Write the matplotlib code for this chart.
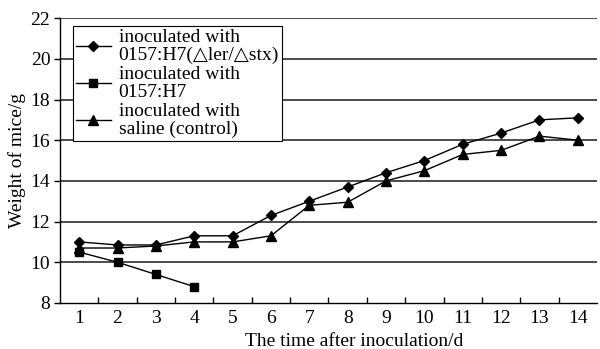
import numpy as np
import matplotlib.pyplot as plt

plt.rcParams['font.family'] = ['Liberation Serif', 'DejaVu Serif']

days = [1, 2, 3, 4, 5, 6, 7, 8, 9, 10, 11, 12, 13, 14]
mutant = [11.0, 10.85, 10.85, 11.3, 11.3, 12.3, 13.0, 13.7, 14.4, 15.0, 15.8, 16.35, 17.0, 17.1]
wild_days = [1, 2, 3, 4]
wild = [10.5, 10.0, 9.4, 8.8]
control = [10.7, 10.7, 10.8, 11.0, 11.0, 11.3, 12.8, 12.95, 14.0, 14.5, 15.3, 15.5, 16.2, 16.0]
labels = ['inoculated with\n0157:H7(\u25b3ler/\u25b3stx)',
          'inoculated with\n0157:H7',
          'inoculated with\nsaline (control)']

fig = plt.figure(figsize=(6, 3.49), dpi=100)
ax = fig.add_axes([0.1, 0.132, 0.895, 0.816])

for yv in [10, 12, 14, 16, 18, 20, 22]:
    ax.axhline(yv, color='#1a1a1a', lw=1.1, zorder=1)

ax.plot(days, mutant, '-D', color='black', ms=5, lw=1, label=labels[0], zorder=3)
ax.plot(wild_days, wild, '-s', color='black', ms=6, lw=1, label=labels[1], zorder=3)
ax.plot(days, control, '-^', color='black', ms=7, lw=1, label=labels[2], zorder=3)

ax.set_xlim(0.5, 14.5)
ax.set_ylim(8, 22)
ax.set_yticks(np.arange(8, 23, 2))
ax.set_xticks(days)
ax.set_xticks(np.arange(1.5, 14.5, 1), minor=True)
ax.tick_params(axis='x', which='major', length=0, labelsize=14, pad=5)
ax.tick_params(axis='x', which='minor', length=4, direction='in', width=1)
ax.tick_params(axis='y', length=4, direction='out', labelsize=14, width=1, pad=3)

for s in ['right', 'top']:
    ax.spines[s].set_visible(False)
ax.spines['left'].set_linewidth(1)
ax.spines['bottom'].set_linewidth(1)

ax.set_xlabel('The time after inoculation/d', fontsize=14)
ax.xaxis.set_label_coords(0.547, -0.105)
ax.set_ylabel('Weight of mice/g', fontsize=14, labelpad=3)

leg = ax.legend(loc='upper left', bbox_to_anchor=(0.024, 0.972), fontsize=14,
                handlelength=1.8, handletextpad=0.4, labelspacing=0.08,
                borderpad=0.15, borderaxespad=0, fancybox=False, framealpha=1,
                edgecolor='black')
leg.get_frame().set_linewidth(0.8)
for t in leg.get_texts():
    t.set_linespacing(1.08)

plt.savefig('out.png', dpi=100)
